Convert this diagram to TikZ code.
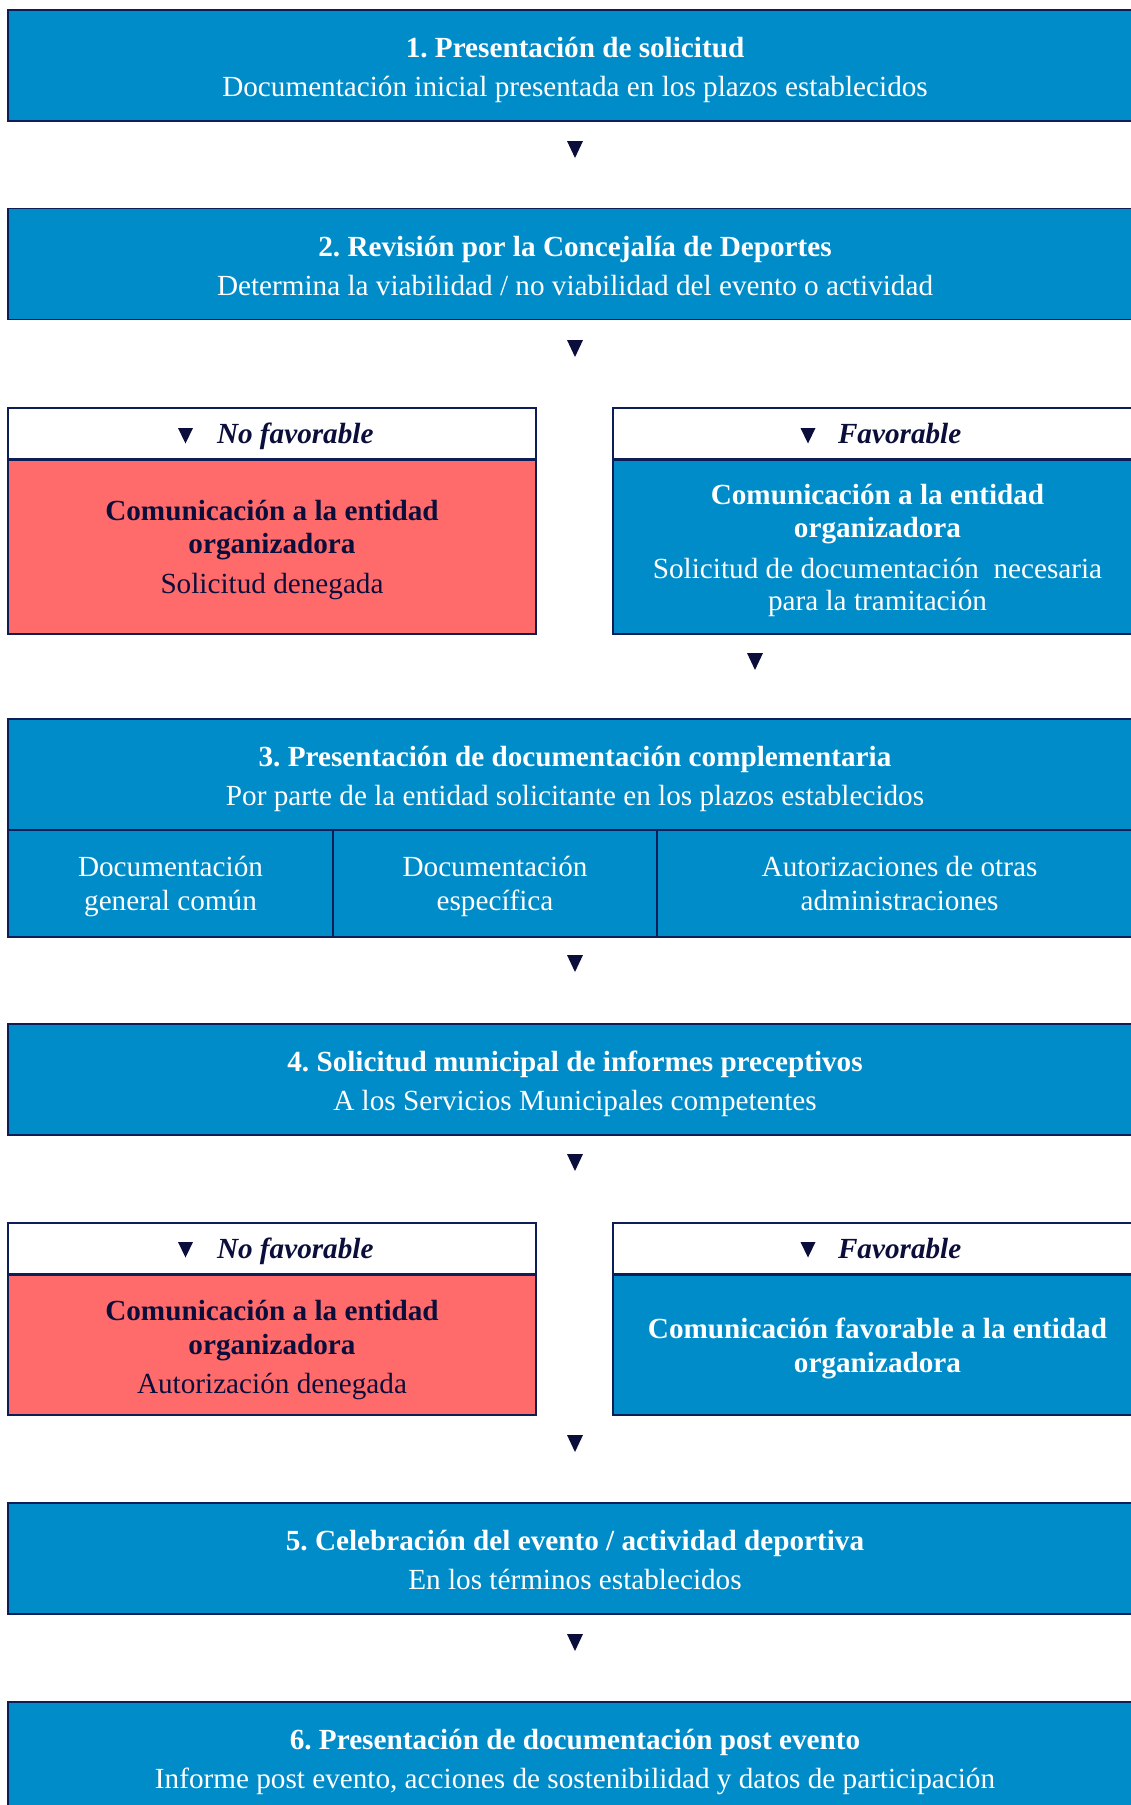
\documentclass[tikz,border=0pt]{standalone}
\usepackage{fontspec}
\setmainfont{Liberation Serif}
\frenchspacing
\definecolor{boxblue}{RGB}{0,140,201}
\definecolor{boxred}{RGB}{255,107,107}
\definecolor{navy}{RGB}{11,14,58}
\definecolor{edge}{RGB}{12,30,85}
\tikzset{
  panel/.style={draw=edge, line width=1.4pt, inner sep=0pt, outer sep=0pt, anchor=north west},
  bluebox/.style={panel, fill=boxblue},
  redbox/.style={panel, fill=boxred},
  headbox/.style={panel, fill=white, minimum height=51pt},
  txt/.style={inner sep=0pt, outer sep=0pt, anchor=base, font=\fontsize{29.2pt}{33pt}\selectfont},
  boldtxt/.style={txt, font=\fontsize{29.2pt}{33pt}\selectfont\bfseries},
  wt/.style={txt, text=white},
  wb/.style={boldtxt, text=white},
  nt/.style={txt, text=navy},
  nb/.style={boldtxt, text=navy},
  headtxt/.style={inner sep=0pt, outer sep=0pt, anchor=base west, text=navy, font=\fontsize{29.2pt}{33pt}\selectfont\bfseries\itshape},
  tri/.style={inner sep=0pt, outer sep=0pt, minimum width=16pt, minimum height=17pt, anchor=north},
  smalltri/.style={tri, minimum width=15pt, minimum height=15.5pt},
}
\begin{document}
\begin{tikzpicture}[x=1pt,y=-1pt]
\useasboundingbox (0,0) rectangle (1131,1805);
\clip (0,0) rectangle (1131,1805);

% Step 1
\node[bluebox, minimum width=1134pt, minimum height=111pt] (b1) at (8,10) {};
\node[wb] (t1) at (575,57.5) {1. Presentación de solicitud};
\node[wt] (s1) at (575,96) {Documentación inicial presentada en los plazos establecidos};
\node[tri] (a1) at (575,141) {};

% Step 2
\node[bluebox, minimum width=1134pt, minimum height=111pt] (b2) at (8,208.5) {};
\node[wb] (t2) at (575,256.5) {2. Revisión por la Concejalía de Deportes};
\node[wt] (s2) at (575,295) {Determina la viabilidad / no viabilidad del evento o actividad};
\node[tri] (a2) at (575,340) {};

% Branch 1
\node[headbox, minimum width=528pt] (hl1) at (8,408) {};
\node[redbox, minimum width=528pt, minimum height=175pt] (rl1) at (8,459) {};
\node[headbox, minimum width=529pt] (hr1) at (613,408) {};
\node[bluebox, minimum width=529pt, minimum height=175pt] (br1) at (613,459) {};
\draw[edge, line width=3pt] (hl1.south west) -- (hl1.south east);
\draw[edge, line width=3pt] (hr1.south west) -- (hr1.south east);
\node[smalltri] (ql1) at (185.5,428) {};
\node[headtxt] (nl1) at (217,443) {No favorable};
\node[smalltri] (qr1) at (808,428) {};
\node[headtxt] (nr1) at (838,443) {Favorable};
\node[nb] (rl1a) at (272,520) {Comunicación a la entidad};
\node[nb] (rl1b) at (272,553) {organizadora};
\node[nt] (rl1c) at (272,593) {Solicitud denegada};
\node[wb] (br1a) at (877.5,504) {Comunicación a la entidad};
\node[wb] (br1b) at (877.5,537) {organizadora};
\node[wt] (br1c) at (877.5,578) {Solicitud de documentación\ \ necesaria};
\node[wt] (br1d) at (877.5,610) {para la tramitación};
\node[tri] (a3) at (755,653) {};

% Step 3
\node[bluebox, minimum width=1134pt, minimum height=111pt] (b3) at (8,719) {};
\node[wb] (t3) at (575,766.5) {3. Presentación de documentación complementaria};
\node[wt] (s3) at (575,805) {Por parte de la entidad solicitante en los plazos establecidos};
\node[bluebox, minimum width=325pt, minimum height=107pt] (c1) at (8,830) {};
\node[bluebox, minimum width=324pt, minimum height=107pt] (c2) at (333,830) {};
\node[bluebox, minimum width=485pt, minimum height=107pt] (c3) at (657,830) {};
\node[wt] (c1a) at (170.5,876.7) {Documentación};
\node[wt] (c1b) at (170.5,910.7) {general común};
\node[wt] (c2a) at (495,876.7) {Documentación};
\node[wt] (c2b) at (495,910.7) {específica};
\node[wt] (c3a) at (899.5,876.7) {Autorizaciones de otras};
\node[wt] (c3b) at (899.5,910.7) {administraciones};
\node[tri] (a4) at (575,955) {};

% Step 4
\node[bluebox, minimum width=1134pt, minimum height=111pt] (b4) at (8,1024) {};
\node[wb] (t4) at (575,1071.5) {4. Solicitud municipal de informes preceptivos};
\node[wt] (s4) at (575,1110) {A los Servicios Municipales competentes};
\node[tri] (a5) at (575,1154) {};

% Branch 2
\node[headbox, minimum width=528pt] (hl2) at (8,1223) {};
\node[redbox, minimum width=528pt, minimum height=141pt] (rl2) at (8,1274) {};
\node[headbox, minimum width=529pt] (hr2) at (613,1223) {};
\node[bluebox, minimum width=529pt, minimum height=141pt] (br2) at (613,1274) {};
\draw[edge, line width=3pt] (hl2.south west) -- (hl2.south east);
\draw[edge, line width=3pt] (hr2.south west) -- (hr2.south east);
\node[smalltri] (ql2) at (185.5,1242) {};
\node[headtxt] (nl2) at (217,1258.5) {No favorable};
\node[smalltri] (qr2) at (808,1242) {};
\node[headtxt] (nr2) at (838,1258.5) {Favorable};
\node[nb] (rl2a) at (272,1320) {Comunicación a la entidad};
\node[nb] (rl2b) at (272,1354) {organizadora};
\node[nt] (rl2c) at (272,1393) {Autorización denegada};
\node[wb] (br2a) at (877.5,1338) {Comunicación favorable a la entidad};
\node[wb] (br2b) at (877.5,1372) {organizadora};
\node[tri] (a6) at (575,1435) {};

% Step 5
\node[bluebox, minimum width=1134pt, minimum height=111pt] (b5) at (8,1503) {};
\node[wb] (t5) at (575,1550.5) {5. Celebración del evento / actividad deportiva};
\node[wt] (s5) at (575,1589) {En los términos establecidos};
\node[tri] (a7) at (575,1634) {};

% Step 6
\node[bluebox, minimum width=1134pt, minimum height=111pt] (b6) at (8,1702) {};
\node[wb] (t6) at (575,1749) {6. Presentación de documentación post evento};
\node[wt] (s6) at (575,1788) {Informe post evento, acciones de sostenibilidad y datos de participación};

% triangle markers
\foreach \n in {a1,a2,a3,a4,a5,a6,a7,ql1,qr1,ql2,qr2}
  \fill[navy] (\n.north west) -- (\n.north east) -- (\n.south) -- cycle;
\end{tikzpicture}
\end{document}
